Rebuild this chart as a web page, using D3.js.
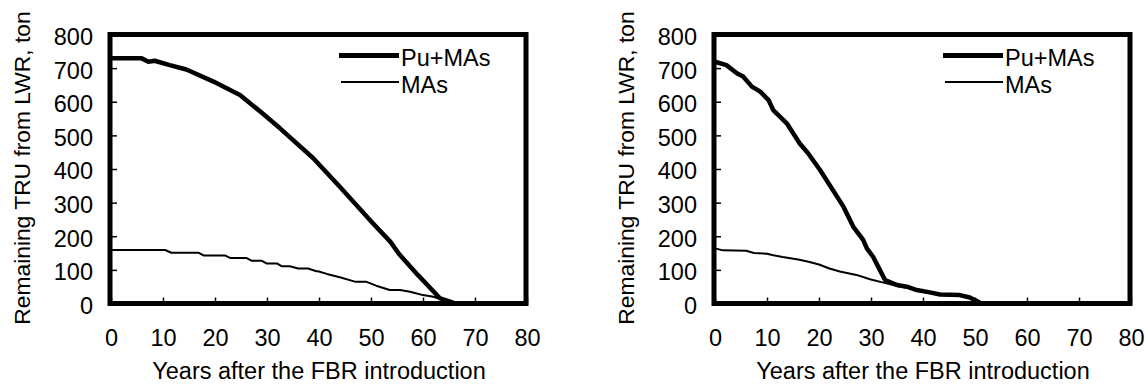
<!DOCTYPE html>
<html>
<head>
<meta charset="utf-8">
<script src="https://cdn.jsdelivr.net/npm/d3@7"></script>
<style>
  html, body { margin: 0; padding: 0; background: #fff; }
  text { font-family: "Liberation Sans", Arial, sans-serif; fill: #000; }
</style>
</head>
<body>
<svg id="chart" width="1145" height="385"></svg>
<script>
// axis ticks
const xTicks = [0, 10, 20, 30, 40, 50, 60, 70, 80];
const yTicks = [0, 100, 200, 300, 400, 500, 600, 700, 800];
const seriesNames = ["Pu+MAs", "MAs"];

// left panel
const leftPuYears = [0, 5.9, 7.2, 8.4, 11.3, 14.5, 19.7, 24.8, 29, 32.5, 38.9, 44, 50.4, 53.7, 55.4, 59, 63.3, 65.5, 66.2, 80];
const leftPuValues = [729, 729, 719, 722, 709, 696, 660, 620, 567, 521, 432, 347, 238, 184, 147, 85, 15, 4, 0, 0];
const leftMAsYears = [0, 10.4, 11.6, 16.8, 17.8, 21.9, 23, 26.1, 27.1, 29, 29.9, 31.9, 32.8, 34.4, 36, 37.9, 39.5, 39.8, 41.5, 44, 46.9, 49, 51, 53.6, 55.6, 57.5, 58.8, 60, 62, 63.6, 65.2, 66.2, 80];
const leftMAsValues = [159, 159, 151, 151, 143, 143, 135, 135, 127, 127, 119, 119, 111, 111, 104, 104, 96, 96, 88, 78, 65, 65, 53, 40, 40, 35, 30, 25, 20, 12, 7, 0, 0];

// right panel
const rightPuYears = [0, 2.2, 4.2, 5.4, 7.1, 8.7, 10.3, 11.2, 13.8, 16.3, 17.9, 20.2, 24.7, 26.6, 28.5, 29.2, 30.4, 31.4, 32.7, 35, 36.9, 38.8, 41.3, 43.3, 47.1, 49, 50.6, 51.2, 80];
const rightPuValues = [719, 709, 685, 675, 645, 630, 605, 575, 536, 476, 447, 397, 288, 228, 189, 164, 139, 109, 70, 55, 50, 40, 33, 27, 25, 18, 5, 0, 0];
const rightMAsYears = [0, 1.5, 6, 7.5, 10, 11, 13, 16, 18, 20, 22, 24, 25.6, 27.2, 29.8, 32.4, 35, 37, 39, 41, 43, 47, 49, 50.6, 51.2, 80];
const rightMAsValues = [164, 158, 157, 150, 148, 144, 138, 131, 124, 116, 104, 95, 90, 85, 72, 62, 52, 47, 39, 32, 26, 23, 16, 4, 0, 0];

const panels = [
  { left: 111, pu: [leftPuYears, leftPuValues], mas: [leftMAsYears, leftMAsValues] },
  { left: 715, pu: [rightPuYears, rightPuValues], mas: [rightMAsYears, rightMAsValues] }
];

const plotW = 416, plotH = 269, plotTop = 34.5;
const svg = d3.select("#chart");

const x = d3.scaleLinear().domain([0, 80]).range([0, plotW]);
const y = d3.scaleLinear().domain([0, 800]).range([plotH, 0]);

const line = d3.line()
  .x(d => x(d[0]))
  .y(d => y(d[1]));

function zipSeries(s) {
  return s[0].map((yr, i) => [yr, s[1][i]]);
}

panels.forEach(function(p) {
  var g = svg.append("g").attr("transform", `translate(${p.left},${plotTop})`);

  // y axis, ticks pointing inward
  var ya = g.append("g")
    .call(d3.axisLeft(y).tickValues(yTicks).tickSizeInner(-6).tickSizeOuter(0).tickPadding(18));
  ya.select(".domain").remove();
  ya.selectAll(".tick line").attr("stroke", "#000").attr("stroke-width", 1.5);
  ya.selectAll(".tick text").attr("font-size", 23.5).attr("font-family", null).attr("dy", "0.42em");

  // x axis, ticks pointing up
  var xa = g.append("g")
    .attr("transform", `translate(0,${plotH})`)
    .call(d3.axisBottom(x).tickValues(xTicks).tickSizeInner(-6).tickSizeOuter(0).tickPadding(26));
  xa.select(".domain").remove();
  xa.selectAll(".tick line").attr("stroke", "#000").attr("stroke-width", 1.5);
  xa.selectAll(".tick text").attr("font-size", 23.5).attr("font-family", null);

  // data lines
  g.append("path")
    .datum(zipSeries(p.mas))
    .attr("fill", "none")
    .attr("stroke", "#000")
    .attr("stroke-width", 2)
    .attr("stroke-linejoin", "round")
    .attr("d", line);

  g.append("path")
    .datum(zipSeries(p.pu))
    .attr("fill", "none")
    .attr("stroke", "#000")
    .attr("stroke-width", 4.5)
    .attr("stroke-linejoin", "round")
    .attr("d", line);

  // frame
  g.append("rect")
    .attr("x", x(0) - 1)
    .attr("y", y(800))
    .attr("width", x(80) - x(0))
    .attr("height", y(0) - y(800))
    .attr("fill", "none")
    .attr("stroke", "#000")
    .attr("stroke-width", 5);

  // legend
  var leg = g.append("g").attr("transform", "translate(228,21)");
  seriesNames.forEach(function(name, i) {
    leg.append("line")
      .attr("x1", i === 0 ? 0 : 2).attr("x2", 60)
      .attr("y1", i * 26.5).attr("y2", i * 26.5)
      .attr("stroke", "#000")
      .attr("stroke-width", i === 0 ? 5 : 2);
    leg.append("text")
      .attr("x", 62)
      .attr("y", i * 26.5 + 10.5)
      .attr("font-size", 23.5)
      .text(name);
  });

  // axis titles
  g.append("text")
    .attr("x", plotW / 2)
    .attr("y", 344.5)
    .attr("text-anchor", "middle")
    .attr("font-size", 23.5)
    .text("Years after the FBR introduction");

  g.append("text")
    .attr("transform", `translate(-81,${plotH / 2 - 1}) rotate(-90)`)
    .attr("text-anchor", "middle")
    .attr("font-size", 22.8)
    .text("Remaining TRU from LWR, ton");
});
</script>
</body>
</html>
